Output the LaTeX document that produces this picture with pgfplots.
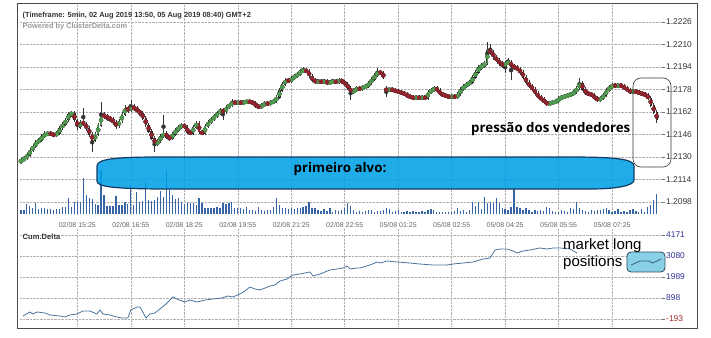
\documentclass[border=0pt]{standalone}
\usepackage{fontspec}
\setmainfont{Liberation Sans}
\newfontfamily\osans{Open Sans}
\usepackage{pgfplots}
\pgfplotsset{compat=1.18}
\usepackage{pgfplotstable}

\definecolor{gridc}{RGB}{175,175,175}
\definecolor{upc}{RGB}{80,155,80}
\definecolor{dnc}{RGB}{145,35,45}
\definecolor{volc}{RGB}{55,100,165}
\definecolor{bannerfill}{RGB}{0,160,230}
\definecolor{bannerdraw}{RGB}{20,60,100}
\definecolor{deltac}{RGB}{75,115,155}
\definecolor{boxfill}{RGB}{135,208,230}
\definecolor{boxdraw}{RGB}{45,75,95}
\definecolor{poslab}{RGB}{50,50,150}
\definecolor{neglab}{RGB}{160,40,40}

\pgfplotstableread{
i o h l c
0 1.21264 1.21292 1.21250 1.21278
1 1.21278 1.21307 1.21271 1.21292
2 1.21292 1.21328 1.21278 1.21314
3 1.21314 1.21364 1.21300 1.21349
4 1.21349 1.21392 1.21335 1.21378
5 1.21378 1.21420 1.21364 1.21406
6 1.21406 1.21435 1.21392 1.21420
7 1.21420 1.21463 1.21406 1.21449
8 1.21449 1.21484 1.21435 1.21463
9 1.21463 1.21484 1.21449 1.21470
10 1.21470 1.21484 1.21449 1.21463
11 1.21463 1.21477 1.21442 1.21456
12 1.21456 1.21484 1.21442 1.21470
13 1.21470 1.21520 1.21456 1.21506
14 1.21506 1.21548 1.21492 1.21534
15 1.21534 1.21577 1.21520 1.21563
16 1.21563 1.21620 1.21548 1.21605
17 1.21605 1.21627 1.21584 1.21612
18 1.21612 1.21627 1.21548 1.21563
19 1.21563 1.21570 1.21492 1.21513
20 1.21513 1.21563 1.21499 1.21548
21 1.21548 1.21648 1.21520 1.21534
22 1.21534 1.21548 1.21484 1.21506
23 1.21506 1.21520 1.21442 1.21463
24 1.21463 1.21477 1.21335 1.21420
25 1.21420 1.21477 1.21406 1.21463
26 1.21463 1.21541 1.21449 1.21527
27 1.21527 1.21691 1.21513 1.21598
28 1.21598 1.21620 1.21570 1.21591
29 1.21591 1.21605 1.21556 1.21577
30 1.21577 1.21591 1.21548 1.21570
31 1.21570 1.21584 1.21527 1.21548
32 1.21548 1.21563 1.21499 1.21520
33 1.21520 1.21570 1.21506 1.21556
34 1.21556 1.21620 1.21541 1.21605
35 1.21605 1.21669 1.21591 1.21648
36 1.21648 1.21662 1.21612 1.21634
37 1.21634 1.21705 1.21620 1.21655
38 1.21655 1.21676 1.21627 1.21648
39 1.21648 1.21662 1.21612 1.21627
40 1.21627 1.21641 1.21591 1.21612
41 1.21612 1.21627 1.21563 1.21577
42 1.21577 1.21591 1.21513 1.21527
43 1.21527 1.21541 1.21470 1.21484
44 1.21484 1.21499 1.21420 1.21435
45 1.21435 1.21449 1.21335 1.21392
46 1.21392 1.21428 1.21378 1.21413
47 1.21413 1.21463 1.21399 1.21449
48 1.21449 1.21598 1.21435 1.21470
49 1.21470 1.21484 1.21428 1.21442
50 1.21442 1.21456 1.21413 1.21435
51 1.21435 1.21477 1.21420 1.21463
52 1.21463 1.21506 1.21449 1.21492
53 1.21492 1.21527 1.21477 1.21513
54 1.21513 1.21541 1.21499 1.21527
55 1.21527 1.21541 1.21499 1.21513
56 1.21513 1.21527 1.21463 1.21477
57 1.21477 1.21492 1.21456 1.21470
58 1.21470 1.21527 1.21456 1.21513
59 1.21513 1.21556 1.21499 1.21541
60 1.21541 1.21556 1.21463 1.21477
61 1.21477 1.21492 1.21456 1.21470
62 1.21470 1.21534 1.21456 1.21520
63 1.21520 1.21563 1.21506 1.21548
64 1.21548 1.21584 1.21534 1.21570
65 1.21570 1.21605 1.21556 1.21591
66 1.21591 1.21627 1.21577 1.21612
67 1.21612 1.21648 1.21598 1.21634
68 1.21634 1.21648 1.21563 1.21620
69 1.21620 1.21669 1.21605 1.21655
70 1.21655 1.21684 1.21641 1.21669
71 1.21669 1.21712 1.21655 1.21691
72 1.21691 1.21705 1.21669 1.21684
73 1.21684 1.21705 1.21669 1.21691
74 1.21691 1.21705 1.21669 1.21684
75 1.21684 1.21705 1.21676 1.21691
76 1.21691 1.21712 1.21676 1.21698
77 1.21698 1.21712 1.21676 1.21691
78 1.21691 1.21705 1.21669 1.21684
79 1.21684 1.21698 1.21648 1.21662
80 1.21662 1.21676 1.21641 1.21655
81 1.21655 1.21684 1.21641 1.21669
82 1.21669 1.21698 1.21655 1.21684
83 1.21684 1.21698 1.21662 1.21676
84 1.21676 1.21705 1.21662 1.21691
85 1.21691 1.21712 1.21676 1.21698
86 1.21698 1.21740 1.21684 1.21726
87 1.21726 1.21790 1.21712 1.21776
88 1.21776 1.21833 1.21762 1.21819
89 1.21819 1.21861 1.21804 1.21847
90 1.21847 1.21861 1.21826 1.21840
91 1.21840 1.21876 1.21826 1.21861
92 1.21861 1.21890 1.21847 1.21876
93 1.21876 1.21904 1.21861 1.21890
94 1.21890 1.21925 1.21876 1.21911
95 1.21911 1.21940 1.21897 1.21918
96 1.21918 1.21932 1.21897 1.21911
97 1.21911 1.21925 1.21861 1.21876
98 1.21876 1.21890 1.21833 1.21847
99 1.21847 1.21861 1.21819 1.21833
100 1.21833 1.21854 1.21826 1.21840
101 1.21840 1.21854 1.21819 1.21833
102 1.21833 1.21854 1.21826 1.21840
103 1.21840 1.21854 1.21812 1.21826
104 1.21826 1.21847 1.21819 1.21833
105 1.21833 1.21854 1.21826 1.21840
106 1.21840 1.21854 1.21819 1.21833
107 1.21833 1.21861 1.21819 1.21847
108 1.21847 1.21861 1.21819 1.21833
109 1.21833 1.21847 1.21804 1.21819
110 1.21819 1.21833 1.21776 1.21790
111 1.21790 1.21804 1.21705 1.21762
112 1.21762 1.21790 1.21748 1.21776
113 1.21776 1.21804 1.21762 1.21790
114 1.21790 1.21804 1.21769 1.21783
115 1.21783 1.21812 1.21769 1.21797
116 1.21797 1.21819 1.21783 1.21804
117 1.21804 1.21840 1.21790 1.21826
118 1.21826 1.21868 1.21812 1.21854
119 1.21854 1.21897 1.21840 1.21883
120 1.21883 1.21932 1.21868 1.21904
121 1.21904 1.21918 1.21883 1.21897
122 1.21897 1.21911 1.21854 1.21868
123 1.21783 1.21804 1.21726 1.21776
124 1.21776 1.21797 1.21762 1.21783
125 1.21783 1.21797 1.21762 1.21776
126 1.21776 1.21790 1.21755 1.21769
127 1.21769 1.21783 1.21748 1.21762
128 1.21762 1.21776 1.21740 1.21755
129 1.21755 1.21769 1.21733 1.21748
130 1.21748 1.21762 1.21719 1.21733
131 1.21733 1.21748 1.21712 1.21726
132 1.21726 1.21740 1.21705 1.21719
133 1.21719 1.21740 1.21705 1.21726
134 1.21726 1.21740 1.21705 1.21719
135 1.21719 1.21740 1.21705 1.21726
136 1.21726 1.21740 1.21705 1.21719
137 1.21719 1.21776 1.21705 1.21762
138 1.21762 1.21790 1.21748 1.21776
139 1.21776 1.21804 1.21762 1.21790
140 1.21790 1.21804 1.21762 1.21776
141 1.21776 1.21790 1.21733 1.21748
142 1.21748 1.21762 1.21726 1.21740
143 1.21740 1.21755 1.21719 1.21733
144 1.21733 1.21748 1.21712 1.21726
145 1.21726 1.21748 1.21712 1.21733
146 1.21733 1.21748 1.21712 1.21726
147 1.21726 1.21762 1.21712 1.21748
148 1.21748 1.21797 1.21733 1.21783
149 1.21783 1.21819 1.21769 1.21804
150 1.21804 1.21833 1.21790 1.21819
151 1.21819 1.21847 1.21804 1.21833
152 1.21833 1.21883 1.21819 1.21868
153 1.21868 1.21918 1.21854 1.21904
154 1.21904 1.21954 1.21890 1.21940
155 1.21940 1.21968 1.21918 1.21947
156 1.21947 1.21982 1.21932 1.21968
157 1.21968 1.22117 1.21954 1.22060
158 1.22060 1.22103 1.22025 1.22046
159 1.22046 1.22060 1.21989 1.22011
160 1.22011 1.22025 1.21975 1.21989
161 1.21989 1.22004 1.21947 1.21968
162 1.21968 1.21982 1.21932 1.21954
163 1.21954 1.21982 1.21897 1.21968
164 1.21968 1.22004 1.21954 1.21975
165 1.21975 1.21989 1.21847 1.21947
166 1.21947 1.21961 1.21918 1.21940
167 1.21940 1.21954 1.21911 1.21925
168 1.21925 1.21940 1.21883 1.21904
169 1.21904 1.21918 1.21854 1.21868
170 1.21868 1.21883 1.21819 1.21833
171 1.21833 1.21847 1.21790 1.21804
172 1.21804 1.21819 1.21769 1.21783
173 1.21783 1.21797 1.21740 1.21755
174 1.21755 1.21769 1.21712 1.21726
175 1.21726 1.21740 1.21698 1.21712
176 1.21712 1.21726 1.21676 1.21691
177 1.21691 1.21705 1.21662 1.21676
178 1.21676 1.21698 1.21662 1.21684
179 1.21684 1.21705 1.21669 1.21691
180 1.21691 1.21712 1.21676 1.21698
181 1.21698 1.21733 1.21684 1.21719
182 1.21719 1.21740 1.21705 1.21726
183 1.21726 1.21748 1.21712 1.21733
184 1.21733 1.21755 1.21719 1.21740
185 1.21740 1.21762 1.21726 1.21748
186 1.21748 1.21776 1.21733 1.21762
187 1.21762 1.21804 1.21748 1.21790
188 1.21790 1.21861 1.21776 1.21826
189 1.21826 1.21840 1.21769 1.21783
190 1.21783 1.21797 1.21740 1.21755
191 1.21755 1.21769 1.21733 1.21748
192 1.21748 1.21762 1.21726 1.21740
193 1.21740 1.21755 1.21705 1.21719
194 1.21719 1.21733 1.21691 1.21705
195 1.21705 1.21733 1.21691 1.21719
196 1.21719 1.21755 1.21705 1.21740
197 1.21740 1.21790 1.21726 1.21776
198 1.21776 1.21812 1.21762 1.21797
199 1.21797 1.21826 1.21783 1.21812
200 1.21812 1.21826 1.21790 1.21804
201 1.21804 1.21826 1.21790 1.21812
202 1.21812 1.21826 1.21790 1.21804
203 1.21804 1.21819 1.21776 1.21790
204 1.21790 1.21804 1.21762 1.21776
205 1.21776 1.21790 1.21748 1.21762
206 1.21762 1.21783 1.21748 1.21769
207 1.21769 1.21783 1.21748 1.21762
208 1.21762 1.21776 1.21740 1.21755
209 1.21755 1.21769 1.21733 1.21748
210 1.21748 1.21762 1.21726 1.21740
211 1.21740 1.21755 1.21705 1.21719
212 1.21719 1.21733 1.21655 1.21669
213 1.21669 1.21684 1.21605 1.21620
214 1.21620 1.21634 1.21541 1.21563
}\candles

\pgfplotsset{
  chartx/.style={
    scale only axis, width=642pt, xmin=-0.3, xmax=215.8,
    xtick={19,37,55,73,91,109,127,145,163,181,199},
    axis line style={draw=none},
    ytick pos=right, tick align=outside, major tick length=3pt,
    xtick style={draw=none}, ytick style={black!55, line width=0.5pt},
    grid=major, major grid style={densely dotted, gridc, line width=0.5pt},
    xticklabel style={font=\fontsize{7}{8}\selectfont},
    yticklabel style={inner sep=1pt, font=\fontsize{8.4}{9}\selectfont},
  }
}

\begin{document}
\begin{tikzpicture}
\path[use as bounding box] (0,0) rectangle (711pt,-337pt);

% price panel
\begin{axis}[chartx, at={(20pt,-214pt)}, anchor=south west, height=209pt,
  ymin=1.20895, ymax=1.22381,
  ytick={1.2098,1.2114,1.2130,1.2146,1.2162,1.2178,1.2194,1.2210,1.2226},
  yticklabels={1.2098,1.2114,1.2130,1.2146,1.2162,1.2178,1.2194,1.2210,1.2226},
  xticklabels={02/08 15:25,02/08 16:55,02/08 18:25,02/08 19:55,02/08 21:25,02/08 22:55,05/08 01:25,05/08 02:55,05/08 04:25,05/08 05:55,05/08 07:25},
  xticklabel style={text=black!60, inner sep=0pt, anchor=north, yshift=-5pt},
  yticklabel style={text=black!80}]
% wicks
\addplot[only marks, mark=none, black!80, error bars/.cd, y dir=both, y explicit,
  error mark=none, error bar style={black!80, line width=0.5pt}]
  table[x=i, y expr={(\thisrow{h}+\thisrow{l})/2}, y error expr={(\thisrow{h}-\thisrow{l})/2}] {\candles};
% body outlines
\addplot[only marks, mark=none, black!85, error bars/.cd, y dir=both, y explicit,
  error mark=none, error bar style={black!85, line width=2.3pt}]
  table[x=i, y expr={(\thisrow{o}+\thisrow{c})/2},
        y error expr={abs(\thisrow{c}-\thisrow{o})/2+0.000025}] {\candles};
% up bodies
\addplot[only marks, mark=none, upc, error bars/.cd, y dir=both, y explicit,
  error mark=none, error bar style={upc, line width=1.4pt}]
  table[x=i, y expr={\thisrow{c}>=\thisrow{o} ? (\thisrow{o}+\thisrow{c})/2 : nan},
        y error expr={max(abs(\thisrow{c}-\thisrow{o})/2,0.000012)}] {\candles};
% down bodies
\addplot[only marks, mark=none, dnc, error bars/.cd, y dir=both, y explicit,
  error mark=none, error bar style={dnc, line width=1.4pt}]
  table[x=i, y expr={\thisrow{c}<\thisrow{o} ? (\thisrow{o}+\thisrow{c})/2 : nan},
        y error expr={max(abs(\thisrow{c}-\thisrow{o})/2,0.000012)}] {\candles};
\end{axis}

% volume bars
\begin{axis}[at={(20pt,-214pt)}, anchor=south west, scale only axis, width=642pt, height=209pt,
  xmin=-0.3, xmax=215.8, ymin=0, ymax=209, hide axis]
\addplot[ycomb, volc, line width=1.3pt] coordinates {
(0,4)(1,4)(2,10)(3,8)(4,6)(5,11)(6,5)(7,6)(8,6)(9,5)(10,5)(11,4)(12,5)(13,5)(14,7)(15,7)(16,16)(17,7)(18,12)(19,12)
(20,12)(21,36)(22,19)(23,16)(24,15)(25,10)(26,9)(27,44)(28,19)(29,8)(30,8)(31,8)(32,18)(33,9)(34,9)(35,12)(36,10)(37,29)(38,9)(39,22)
(40,12)(41,13)(42,32)(43,14)(44,13)(45,14)(46,17)(47,23)(48,17)(49,44)(50,24)(51,19)(52,15)(53,16)(54,12)(55,10)(56,11)(57,11)(58,11)(59,9)
(60,16)(61,11)(62,6)(63,6)(64,6)(65,6)(66,7)(67,6)(68,11)(69,10)(70,11)(71,12)(72,6)(73,6)(74,6)(75,5)(76,7)(77,4)(78,4)(79,3)
(80,7)(81,4)(82,3)(83,4)(84,4)(85,7)(86,16)(87,9)(88,6)(89,6)(90,5)(91,6)(92,5)(93,6)(94,6)(95,7)(96,8)(97,12)(98,6)(99,6)
(100,4)(101,3)(102,5)(103,3)(104,6)(105,2)(106,4)(107,3)(108,4)(109,6)(110,11)(111,8)(112,4)(113,2)(114,3)(115,2)(116,3)(117,4)(118,4)(119,2)
(120,3)(121,3)(122,4)(123,6)(124,5)(125,2)(126,3)(127,4)(128,2)(129,2)(130,3)(131,2)(132,3)(133,2)(134,2)(135,3)(136,2)(137,4)(138,5)(139,4)
(140,2)(141,2)(142,2)(143,2)(144,2)(145,2)(146,3)(147,6)(148,3)(149,4)(150,2)(151,4)(152,12)(153,8)(154,12)(155,5)(156,17)(157,11)(158,12)(159,11)
(160,16)(161,11)(162,6)(163,5)(164,4)(165,7)(166,26)(167,7)(168,6)(169,4)(170,6)(171,4)(172,2)(173,4)(174,3)(175,4)(176,3)(177,7)(178,6)(179,3)
(180,2)(181,2)(182,4)(183,3)(184,2)(185,6)(186,5)(187,12)(188,6)(189,4)(190,3)(191,2)(192,4)(193,3)(194,4)(195,4)(196,5)(197,6)(198,4)(199,2)
(200,3)(201,5)(202,2)(203,3)(204,2)(205,4)(206,5)(207,3)(208,2)(209,5)(210,2)(211,7)(212,9)(213,14)(214,20)};
\end{axis}

% cumulative delta panel
\begin{axis}[chartx, at={(20pt,-326pt)}, anchor=south west, height=98pt,
  ymin=-557, ymax=4535, clip=false,
  xticklabels={},
  ytick={-193,898,1989,3080,4171},
  yticklabels={\textcolor{neglab}{-193},\textcolor{poslab}{898},\textcolor{poslab}{1989},\textcolor{poslab}{3080},\textcolor{poslab}{4171}}]
\addplot[deltac, line width=0.8pt] coordinates {
(0.7,-37)(3.0,171)(4.0,67)(5.4,171)(8.1,119)(9.8,15)(13.1,-37)(14.8,-89)(16.5,15)(18.9,67)
(20.9,223)(23.2,223)(25.6,67)(26.6,275)(27.6,67)(30.0,15)(32.3,-89)(34.0,-141)(36.0,-141)(37.0,275)
(39.1,431)(40.1,431)(41.4,67)(42.1,-141)(43.4,67)(45.1,119)(46.8,327)(49.2,638)(51.2,950)(52.5,846)
(55.2,690)(56.9,794)(59.3,690)(62.0,794)(64.6,846)(67.7,898)(69.7,1002)(71.4,950)(73.7,1106)(75.4,1262)
(77.1,1470)(78.8,1366)(80.5,1314)(82.2,1418)(83.8,1522)(85.5,1573)(87.2,1781)(89.6,1885)(91.6,2093)(93.9,2145)
(97.3,2249)(98.3,2041)(100.7,2145)(104.0,2353)(106.4,2405)(108.4,2457)(109.8,2561)(110.8,2405)(113.1,2457)(114.1,2457)
(117.5,2613)(119.9,2768)(120.9,2716)(123.2,2820)(126.6,2768)(131.0,2716)(134.3,2664)(138.7,2613)(143.4,2613)(145.5,2664)
(148.8,2716)(152.2,2768)(155.6,2924)(157.9,2976)(159.6,3392)(161.3,3444)(163.6,3444)(165.7,3340)(167.0,3236)(169.0,3340)
(171.4,3392)(174.7,3496)(177.1,3444)(179.1,3496)(181.5,3496)(184.8,3444)(187.2,3236)};
\draw[rounded corners=4pt, fill=boxfill, draw=boxdraw, line width=0.8pt] (axis cs:204,3288) rectangle (axis cs:216.8,2249);
\addplot[deltac!80!black, line width=0.8pt] coordinates {
(205.4,2612)(208.4,2820)(211.4,2820)(212.5,2716)(214.1,2820)(215.5,2924)};
\end{axis}

% outer frame
\draw[black!70, line width=0.8pt] (17pt,-3pt) rectangle (697pt,-328pt);

% headers
\node[anchor=base west, inner sep=0pt, text=black!80, font=\bfseries\fontsize{7.4}{9}\selectfont] at (22.5pt,-18pt) {(Timeframe: 5min, 02 Aug 2019 13:50, 05 Aug 2019 08:40) GMT+2};
\node[anchor=base west, inner sep=0pt, text=black!40, font=\bfseries\fontsize{7.4}{9}\selectfont] at (22.5pt,-29pt) {Powered by ClusterDelta.com};
\node[anchor=base west, inner sep=0pt, text=black!80, font=\bfseries\fontsize{7.6}{9}\selectfont] at (22.5pt,-239pt) {Cum.Delta};

% annotations
\filldraw[fill=bannerfill, fill opacity=0.88, draw=bannerdraw, line width=1.2pt]
  (97pt,-166pt) .. controls (97pt,-159pt) and (115pt,-157pt) .. (160pt,-157pt)
  -- (570pt,-157pt) .. controls (615pt,-157pt) and (634pt,-159pt) .. (634pt,-166pt)
  -- (634pt,-180pt) .. controls (634pt,-186pt) and (615pt,-189pt) .. (590pt,-189pt)
  -- (170pt,-189pt) .. controls (115pt,-189pt) and (97pt,-187pt) .. (97pt,-181pt) -- cycle;
\node[anchor=base west, inner sep=0pt, font=\osans\bfseries\fontsize{13.3}{15}\selectfont] at (293.5pt,-172pt) {primeiro alvo:};
\node[anchor=base west, inner sep=0pt, font=\osans\bfseries\fontsize{13.3}{15}\selectfont] at (471pt,-132pt) {pressão dos vendedores};
\draw[rounded corners=8pt, black!80, line width=0.6pt] (633pt,-78pt) rectangle (671pt,-167pt);
\node[anchor=base west, inner sep=0pt, font=\fontsize{15}{17}\selectfont] at (563pt,-249pt) {market long};
\node[anchor=base west, inner sep=0pt, font=\fontsize{15}{17}\selectfont] at (563pt,-266pt) {positions};
\end{tikzpicture}
\end{document}
